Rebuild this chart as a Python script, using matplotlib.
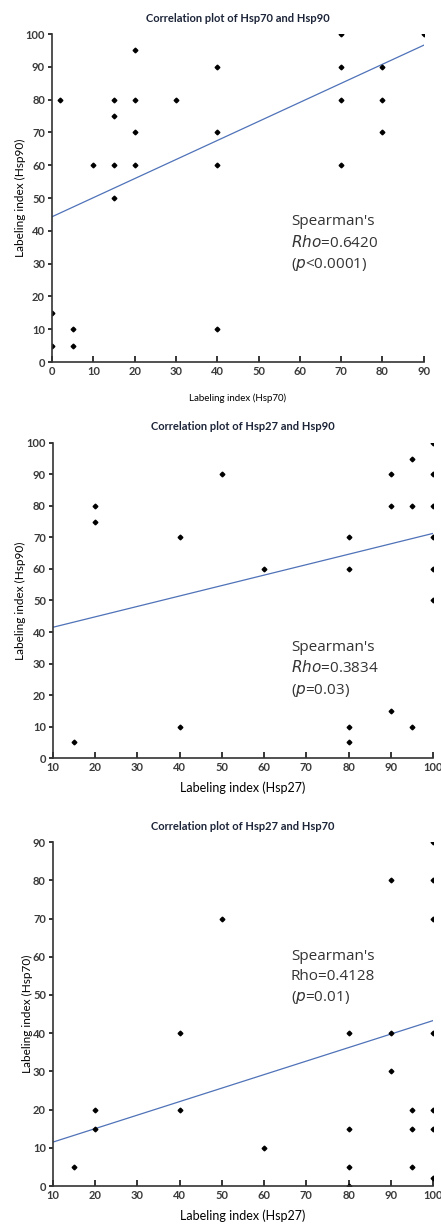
import matplotlib
matplotlib.use("Agg")
import matplotlib.pyplot as plt

plt.rcParams["font.family"] = ["Lato", "DejaVu Sans"]

# Hsp70 vs Hsp90
hsp70_a = [2, 10, 15, 15, 15, 15, 20, 20, 20, 20, 30, 40, 40, 40, 70, 70, 70, 70,
           80, 80, 80, 90, 0, 0, 5, 5, 40]
hsp90_a = [80, 60, 80, 75, 60, 50, 95, 80, 70, 60, 80, 90, 70, 60, 100, 90, 80, 60,
           90, 80, 70, 100, 15, 5, 10, 5, 10]
fit_a_x = [0, 90]
fit_a_y = [44.3, 96.6]

# Hsp27 vs Hsp90
hsp27_b = [20, 20, 40, 50, 60, 80, 80, 90, 90, 95, 95, 100, 100, 100, 100, 100, 100,
           15, 40, 80, 80, 90, 95]
hsp90_b = [80, 75, 70, 90, 60, 70, 60, 90, 80, 95, 80, 100, 90, 80, 70, 60, 50,
           5, 10, 10, 5, 15, 10]
fit_b_x = [10, 100]
fit_b_y = [41.5, 71.3]

# Hsp27 vs Hsp70
hsp27_c = [100, 90, 100, 50, 100, 40, 80, 90, 100, 90, 20, 40, 95, 100, 20, 80, 95,
           100, 60, 15, 80, 95, 100, 80]
hsp70_c = [90, 80, 80, 70, 70, 40, 40, 40, 40, 30, 20, 20, 20, 20, 15, 15, 15,
           15, 10, 5, 5, 5, 2, 0]
fit_c_x = [10, 100]
fit_c_y = [11.5, 43.3]

panels = [
    dict(x=hsp70_a, y=hsp90_a, fx=fit_a_x, fy=fit_a_y,
         title="Correlation plot of Hsp70 and Hsp90",
         xlabel="Labeling index (Hsp70)", ylabel="Labeling index (Hsp90)",
         xlim=(0, 90), ylim=(0, 100), xticks=range(0, 91, 10), yticks=range(0, 101, 10),
         rect=[0.118, 0.7042, 0.843, 0.268], xlsize=7, xlpad=12,
         tpos=(0.643, 0.45),
         text=["Spearman's", r"$\it{Rho}$=0.6420", r"($\it{p}$<0.0001)"]),
    dict(x=hsp27_b, y=hsp90_b, fx=fit_b_x, fy=fit_b_y,
         title="Correlation plot of Hsp27 and Hsp90",
         xlabel="Labeling index (Hsp27)", ylabel="Labeling index (Hsp90)",
         xlim=(10, 100), ylim=(0, 100), xticks=range(10, 101, 10), yticks=range(0, 101, 10),
         rect=[0.120, 0.3807, 0.862, 0.2574], xlsize=9, xlpad=6,
         tpos=(0.626, 0.375),
         text=["Spearman's", r"$\it{Rho}$=0.3834", r"($\it{p}$=0.03)"]),
    dict(x=hsp27_c, y=hsp70_c, fx=fit_c_x, fy=fit_c_y,
         title="Correlation plot of Hsp27 and Hsp70",
         xlabel="Labeling index (Hsp27)", ylabel="Labeling index (Hsp70)",
         xlim=(10, 100), ylim=(0, 90), xticks=range(10, 101, 10), yticks=range(0, 91, 10),
         rect=[0.120, 0.0310, 0.862, 0.2810], xlsize=9, xlpad=6,
         tpos=(0.626, 0.69),
         text=["Spearman's", "Rho=0.4128", r"($\it{p}$=0.01)"]),
]

fig = plt.figure(figsize=(4.41, 12.24), dpi=100)

for p in panels:
    ax = fig.add_axes(p["rect"])
    ax.plot(p["fx"], p["fy"], color="#4f72b8", lw=0.9)
    ax.plot(p["x"], p["y"], linestyle="none", marker="D", markersize=2.4,
            color="black")
    ax.set_xlim(*p["xlim"])
    ax.set_ylim(*p["ylim"])
    ax.set_xticks(list(p["xticks"]))
    ax.set_yticks(list(p["yticks"]))
    for s in ("top", "right"):
        ax.spines[s].set_visible(False)
    for s in ("left", "bottom"):
        ax.spines[s].set_color("#333333")
        ax.spines[s].set_linewidth(1.2)
    ax.tick_params(axis="x", direction="in", length=4, width=1.1, pad=3)
    ax.tick_params(axis="y", direction="out", length=3, width=1.1, pad=2)
    for lab in ax.get_xticklabels() + ax.get_yticklabels():
        lab.set_fontsize(8)
        lab.set_fontweight("bold")
        lab.set_color("#3a3a3a")
    ax.set_title(p["title"], fontsize=8, fontweight="bold", pad=9, color="#1c2438")
    ax.set_xlabel(p["xlabel"], fontsize=p["xlsize"], labelpad=p["xlpad"])
    ax.set_ylabel(p["ylabel"], fontsize=8.5, labelpad=0)
    ax.text(p["tpos"][0], p["tpos"][1], "\n".join(p["text"]), transform=ax.transAxes,
            fontsize=11, color="#333333", va="top", ha="left", linespacing=1.45,
            family=["Open Sans", "DejaVu Sans"])

fig.savefig("out.png", dpi=100)
